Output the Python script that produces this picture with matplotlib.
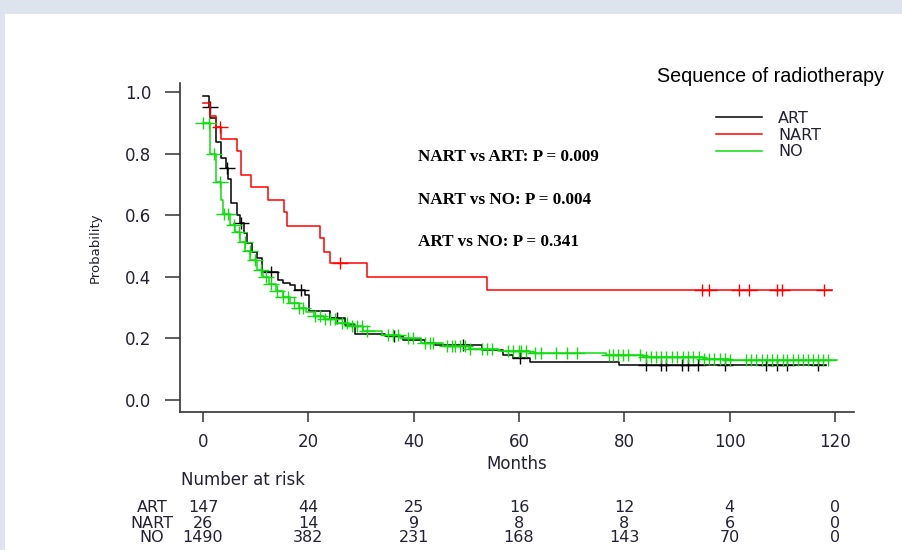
import numpy as np
import matplotlib
matplotlib.use("Agg")
import matplotlib.pyplot as plt
from matplotlib.path import Path
from matplotlib.patches import Rectangle
from matplotlib.lines import Line2D
from matplotlib.transforms import blended_transform_factory

W, H = 902, 550

# Kaplan-Meier steps (time in months, survival after step)
art_t = [0, 1.23, 1.42, 2.47, 3.36, 4.37, 4.75, 5.26, 6.4, 7.0, 7.8, 8.35, 9.25, 10.25, 11.15,
         14.3, 15.25, 16.5, 17.5, 19.4, 20.2, 24.1, 27.0, 28.9, 34.6, 38.0, 42.1, 44.0, 52.9,
         57.0, 58.9, 62.1, 78.9]
art_s = [.987, .950, .915, .839, .787, .753, .717, .639, .601, .575, .542, .510, .481, .461, .417,
         .390, .381, .373, .357, .341, .290, .266, .244, .214, .208, .196, .186, .179, .162,
         .146, .136, .124, .114]
art_end = 118.3
art_cens = [1.3, 4.6, 7.3, 13.0, 18.6, 25.4, 36.3, 49.3, 60.2, 84.1, 86.9, 87.9, 90.9, 92.0,
            94.0, 99.1, 106.9, 108.9, 110.8, 116.7]

nart_t = [0, 1.3, 2.47, 3.36, 6.4, 7.15, 9.1, 12.3, 15.4, 16.0, 22.2, 23.0, 24.1, 31.2, 54.0]
nart_s = [.963, .923, .885, .846, .808, .730, .690, .650, .610, .565, .525, .481, .444, .400, .357]
nart_end = 119.4
nart_cens = [3.2, 26.0, 94.7, 96.0, 101.8, 103.7, 108.9, 109.9, 117.9]

no_t = [0, 1.33, 2.47, 3.36, 3.8, 5.1, 6.1, 7.0, 8.0, 9.0, 10.2, 11.4, 12.6, 13.8, 15.1, 16.6,
        18.2, 19.6, 21.1, 22.9, 25.3, 27.8, 30.4, 34.0, 37.4, 41.3, 45.5, 50.5, 56.0, 62.0,
        76.5, 83.5, 95.0, 100.0]
no_s = [.900, .800, .709, .649, .604, .567, .545, .513, .484, .455, .423, .398, .376, .355, .334,
        .315, .300, .286, .274, .262, .251, .239, .223, .212, .201, .185, .175, .165, .158, .152,
        .146, .139, .133, .130]
no_end = 120.3
no_cens = [0, 1.2, 2.0, 3.2, 3.9, 4.8, 5.8, 6.8, 7.9, 8.9, 9.9, 11.0, 12.0, 13.0, 14.0, 15.2,
           16.2, 17.3, 18.3, 19.0, 21.3, 22.2, 23.2, 24.1, 25.1, 26.3, 27.3, 28.2, 29.2, 30.1,
           31.1, 35.2, 36.1, 37.1, 39.0, 39.9, 42.1, 43.1, 43.7, 46.3, 47.2, 47.8, 48.8, 49.7,
           50.7, 52.9, 53.9, 54.8, 58.0, 58.9, 59.9, 60.3, 61.3, 63.0, 64.1, 67.0, 69.1, 71.1,
           77.0, 77.8, 78.7, 79.7, 80.7, 83.0, 84.1, 85.0, 86.0, 87.0, 88.0, 89.0, 89.9, 91.1,
           92.1, 93.1, 94.2, 95.1, 96.1, 97.0, 98.2, 99.1, 100.1, 103.1, 104.0, 105.0, 106.1,
           107.0, 108.0, 108.9, 110.1, 110.9, 112.0, 112.9, 114.0, 114.9, 115.9, 116.8, 117.8,
           118.7]

groups = ["ART", "NART", "NO"]
colors = ["#000000", "#ff0000", "#10dc10"]

risk_times = [0, 20, 40, 60, 80, 100, 120]
risk_art = [147, 44, 25, 16, 12, 4, 0]
risk_nart = [26, 14, 9, 8, 8, 6, 0]
risk_no = [1490, 382, 231, 168, 143, 70, 0]

pvalues = ["NART vs ART: P = 0.009", "NART vs NO: P = 0.004", "ART vs NO: P = 0.341"]

plt.rcParams["font.family"] = ["DejaVu Sans"]
TXT = "#222233"


def px(x, y):
    return x / W, 1 - y / H


def step_at(t, s, c):
    idx = np.searchsorted(t, c, side="right") - 1
    return np.array(s)[idx]


# wide "+" like the stretched R censor marks
cross = Path([(-1.35, 0), (1.35, 0), (0, -1), (0, 1)],
             [Path.MOVETO, Path.LINETO, Path.MOVETO, Path.LINETO])

fig = plt.figure(figsize=(W / 100, H / 100), dpi=100, facecolor="#dde4ee")
fig.patches.append(Rectangle(px(5, 550), 897 / W, 536 / H, transform=fig.transFigure,
                             facecolor="white", edgecolor="none", zorder=-10))

ax = fig.add_axes([180 / W, (550 - 411.7) / H, 674 / W, 328.4 / H])
ax.set_facecolor("none")

series = [(art_t, art_s, art_end, art_cens), (nart_t, nart_s, nart_end, nart_cens),
          (no_t, no_s, no_end, no_cens)]
for i in [2, 0, 1]:
    t, s, end, cens = series[i]
    ax.step(list(t) + [end], list(s) + [s[-1]], where="post", color=colors[i], lw=1.1, zorder=3 + i)
    ax.plot(cens, step_at(t, s, cens), linestyle="none", marker=cross, markersize=11,
            markeredgewidth=1.0, color=colors[i], zorder=3 + i)

ax.set_xlim(-4.37, 123.6)
ax.set_ylim(-0.038, 1.028)
ax.set_xticks(risk_times)
ax.set_yticks([0, 0.2, 0.4, 0.6, 0.8, 1.0])
ax.set_yticklabels(["0.0", "0.2", "0.4", "0.6", "0.8", "1.0"])
for side in ["top", "right"]:
    ax.spines[side].set_visible(False)
for side in ["left", "bottom"]:
    ax.spines[side].set_color("#333333")
    ax.spines[side].set_linewidth(1.2)
ax.tick_params(axis="y", length=10.8, width=1.1, color="#333333", pad=10, labelsize=12,
               labelcolor=TXT)
ax.tick_params(axis="x", length=7, width=1.1, color="#333333", pad=8, labelsize=12,
               labelcolor=TXT)

ax.set_ylabel("Probability", fontsize=9.5, color=TXT)
ax.yaxis.set_label_coords(-0.126, 0.5)
ax.yaxis.label.set_va("center")
ax.set_xlabel("Months", fontsize=12, color=TXT)
ax.xaxis.set_label_coords(0.5, -0.158)
ax.xaxis.label.set_va("center")

# legend
handles = [Line2D([], [], color=c, lw=1.1) for c in colors]
leg = fig.legend(handles, groups, loc="center left", bbox_to_anchor=px(716, 135),
                 frameon=False, fontsize=11.5, handlelength=2.9, handletextpad=1.0,
                 labelspacing=0.1, borderpad=0, borderaxespad=0)
for txt in leg.get_texts():
    txt.set_color(TXT)
fig.text(*px(657, 77), "Sequence of radiotherapy", fontsize=14.2, family="Liberation Sans",
         va="center", ha="left")

for y, label in zip([157, 200, 242], pvalues):
    fig.text(*px(418, y), label, fontsize=12.3, family="Liberation Serif", weight="bold",
             va="center", ha="left")

# number at risk table
fig.text(*px(181, 480), "Number at risk", fontsize=12, va="center", ha="left", color=TXT)
tr = blended_transform_factory(ax.transData, fig.transFigure)
for y, g, vals in zip([508, 523, 538], groups, [risk_art, risk_nart, risk_no]):
    fig.text(*px(152, y), g, fontsize=11.5, va="center", ha="center", color=TXT)
    for t, v in zip(risk_times, vals):
        ax.text(t, 1 - y / H, str(v), transform=tr, fontsize=11.5, va="center", ha="center",
                color=TXT)

fig.savefig("out.png", dpi=100, facecolor=fig.get_facecolor())
